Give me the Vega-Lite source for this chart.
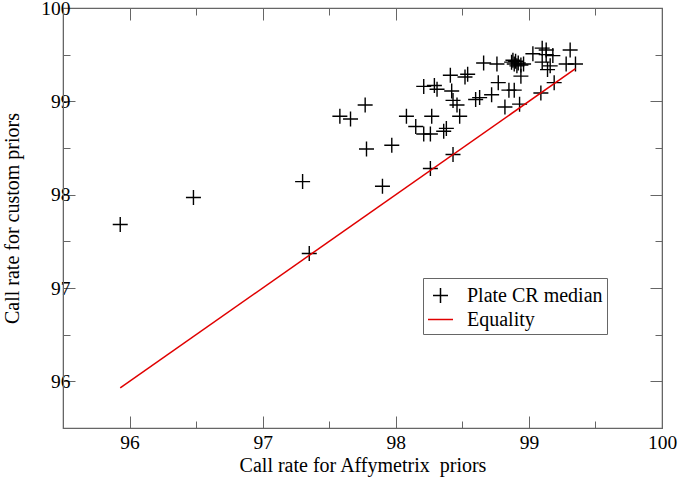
{
  "$schema": "https://vega.github.io/schema/vega-lite/v6.json",
  "width": 599,
  "height": 420,
  "autosize": {"type": "none"},
  "padding": {"left": 63, "top": 8, "right": 18, "bottom": 49},
  "background": "white",
  "config": {
    "font": "Liberation Serif",
    "view": {"stroke": "#666", "strokeWidth": 1.2},
    "axis": {
      "domainColor": "#666",
      "tickColor": "#666",
      "grid": false,
      "labelFont": "Liberation Serif",
      "titleFont": "Liberation Serif",
      "labelFontSize": 19.5,
      "titleFontSize": 20,
      "titleFontWeight": "normal",
      "labelColor": "black",
      "titleColor": "black"
    }
  },
  "layer": [
    {
      "data": {"values": [
        {"x": 95.93, "y": 97.68, "series": "Plate CR median"},
        {"x": 96.48, "y": 97.97, "series": "Plate CR median"},
        {"x": 97.30, "y": 98.14, "series": "Plate CR median"},
        {"x": 97.35, "y": 97.37, "series": "Plate CR median"},
        {"x": 97.90, "y": 98.09, "series": "Plate CR median"},
        {"x": 97.58, "y": 98.84, "series": "Plate CR median"},
        {"x": 97.66, "y": 98.81, "series": "Plate CR median"},
        {"x": 97.77, "y": 98.96, "series": "Plate CR median"},
        {"x": 97.78, "y": 98.49, "series": "Plate CR median"},
        {"x": 97.97, "y": 98.53, "series": "Plate CR median"},
        {"x": 98.08, "y": 98.84, "series": "Plate CR median"},
        {"x": 98.15, "y": 98.73, "series": "Plate CR median"},
        {"x": 98.21, "y": 98.65, "series": "Plate CR median"},
        {"x": 98.26, "y": 98.65, "series": "Plate CR median"},
        {"x": 98.27, "y": 98.84, "series": "Plate CR median"},
        {"x": 98.26, "y": 98.28, "series": "Plate CR median"},
        {"x": 98.36, "y": 98.68, "series": "Plate CR median"},
        {"x": 98.38, "y": 98.71, "series": "Plate CR median"},
        {"x": 98.43, "y": 98.43, "series": "Plate CR median"},
        {"x": 98.48, "y": 98.84, "series": "Plate CR median"},
        {"x": 98.46, "y": 98.96, "series": "Plate CR median"},
        {"x": 98.43, "y": 99.01, "series": "Plate CR median"},
        {"x": 98.42, "y": 99.11, "series": "Plate CR median"},
        {"x": 98.21, "y": 99.16, "series": "Plate CR median"},
        {"x": 98.29, "y": 99.17, "series": "Plate CR median"},
        {"x": 98.31, "y": 99.13, "series": "Plate CR median"},
        {"x": 98.41, "y": 99.28, "series": "Plate CR median"},
        {"x": 98.52, "y": 99.26, "series": "Plate CR median"},
        {"x": 98.54, "y": 99.29, "series": "Plate CR median"},
        {"x": 98.60, "y": 99.02, "series": "Plate CR median"},
        {"x": 98.63, "y": 99.04, "series": "Plate CR median"},
        {"x": 98.72, "y": 99.07, "series": "Plate CR median"},
        {"x": 98.77, "y": 99.20, "series": "Plate CR median"},
        {"x": 98.82, "y": 98.94, "series": "Plate CR median"},
        {"x": 98.85, "y": 99.12, "series": "Plate CR median"},
        {"x": 98.89, "y": 99.12, "series": "Plate CR median"},
        {"x": 98.93, "y": 98.97, "series": "Plate CR median"},
        {"x": 98.94, "y": 99.27, "series": "Plate CR median"},
        {"x": 98.66, "y": 99.41, "series": "Plate CR median"},
        {"x": 98.76, "y": 99.40, "series": "Plate CR median"},
        {"x": 98.87, "y": 99.42, "series": "Plate CR median"},
        {"x": 98.89, "y": 99.40, "series": "Plate CR median"},
        {"x": 98.90, "y": 99.43, "series": "Plate CR median"},
        {"x": 98.92, "y": 99.41, "series": "Plate CR median"},
        {"x": 98.94, "y": 99.39, "series": "Plate CR median"},
        {"x": 98.96, "y": 99.40, "series": "Plate CR median"},
        {"x": 98.91, "y": 99.38, "series": "Plate CR median"},
        {"x": 98.88, "y": 99.44, "series": "Plate CR median"},
        {"x": 99.03, "y": 99.51, "series": "Plate CR median"},
        {"x": 99.10, "y": 99.57, "series": "Plate CR median"},
        {"x": 99.13, "y": 99.55, "series": "Plate CR median"},
        {"x": 99.13, "y": 99.50, "series": "Plate CR median"},
        {"x": 99.18, "y": 99.49, "series": "Plate CR median"},
        {"x": 99.10, "y": 99.42, "series": "Plate CR median"},
        {"x": 99.16, "y": 99.38, "series": "Plate CR median"},
        {"x": 99.14, "y": 99.34, "series": "Plate CR median"},
        {"x": 99.31, "y": 99.55, "series": "Plate CR median"},
        {"x": 99.28, "y": 99.40, "series": "Plate CR median"},
        {"x": 99.35, "y": 99.40, "series": "Plate CR median"},
        {"x": 99.19, "y": 99.20, "series": "Plate CR median"},
        {"x": 99.09, "y": 99.09, "series": "Plate CR median"}
      ]},
      "mark": {"type": "point", "filled": false, "strokeWidth": 1.4, "size": 625, "opacity": 1},
      "encoding": {
        "x": {
          "field": "x", "type": "quantitative",
          "scale": {"domain": [95.5, 100], "nice": false, "zero": false},
          "axis": {
            "orient": "bottom",
            "title": "Call rate for Affymetrix\u00a0\u00a0priors",
            "values": [96, 96.5, 97, 97.5, 98, 98.5, 99, 99.5, 100],
            "labelExpr": "datum.value % 1 === 0 ? format(datum.value, 'd') : ''",
            "tickSize": {"condition": {"test": "datum.value % 1 === 0", "value": -12}, "value": -7},
            "labelPadding": 17,
            "titleX": 299.5,
            "titleY": 37,
            "titleAlign": "center",
            "titleBaseline": "middle",
            "labelFlush": false
          }
        },
        "y": {
          "field": "y", "type": "quantitative",
          "scale": {"domain": [95.5, 100], "nice": false, "zero": false},
          "axis": {
            "orient": "left",
            "title": "Call rate for custom priors",
            "values": [96, 96.5, 97, 97.5, 98, 98.5, 99, 99.5, 100],
            "labelExpr": "datum.value % 1 === 0 ? format(datum.value, 'd') : ''",
            "tickSize": {"condition": {"test": "datum.value % 1 === 0", "value": -12}, "value": -7},
            "labelPadding": 5,
            "titleX": -51,
            "titleY": 210,
            "titleAngle": -90,
            "titleAlign": "center",
            "titleBaseline": "middle",
            "labelFlush": false
          }
        },
        "color": {
          "field": "series", "type": "nominal",
          "scale": {"domain": ["Plate CR median", "Equality"], "range": ["black", "#e00000"]},
          "legend": {
            "title": null,
            "orient": "none",
            "legendX": 360,
            "legendY": 270,
            "strokeColor": "#666",
            "fillColor": "white",
            "padding": 4,
            "labelFontSize": 20,
            "labelFont": "Liberation Serif",
            "labelColor": "black",
            "symbolSize": 625,
            "symbolStrokeWidth": 1.5,
            "labelOffset": 13,
            "rowPadding": -8
          }
        },
        "shape": {
          "field": "series", "type": "nominal",
          "scale": {"domain": ["Plate CR median", "Equality"], "range": ["M-0.6,0H0.6M0,-0.6V0.6", "stroke"]},
          "legend": null
        }
      }
    },
    {
      "data": {"values": [
        {"x": 95.93, "y": 95.93, "series": "Equality"},
        {"x": 99.35, "y": 99.35, "series": "Equality"}
      ]},
      "mark": {"type": "line", "strokeWidth": 1.5},
      "encoding": {
        "x": {
          "field": "x", "type": "quantitative",
          "axis": {
            "orient": "top", "title": null, "labels": false,
            "values": [96, 96.5, 97, 97.5, 98, 98.5, 99, 99.5, 100],
            "tickSize": {"condition": {"test": "datum.value % 1 === 0", "value": -12}, "value": -7}
          }
        },
        "y": {
          "field": "y", "type": "quantitative",
          "axis": {
            "orient": "right", "title": null, "labels": false,
            "values": [96, 96.5, 97, 97.5, 98, 98.5, 99, 99.5, 100],
            "tickSize": {"condition": {"test": "datum.value % 1 === 0", "value": -12}, "value": -7}
          }
        },
        "color": {"field": "series", "type": "nominal"}
      }
    }
  ],
  "resolve": {"axis": {"x": "independent", "y": "independent"}}
}
